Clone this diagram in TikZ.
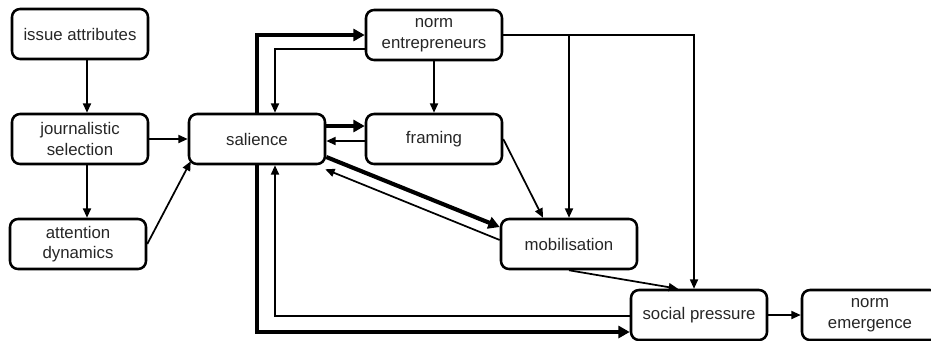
\documentclass[tikz,border=0pt]{standalone}
\usepackage{fontspec}
\setmainfont{Liberation Sans}
\usetikzlibrary{positioning, arrows.meta}

\begin{document}
\begin{tikzpicture}[x=0.75pt, y=-0.75pt,
		box/.style={draw, line width=1.9pt, rounded corners=6pt, minimum width=102pt, minimum height=37.5pt, align=center, text=black!85, font=\fontsize{12.6}{15.4}\selectfont},
		linkthin/.style={line width=1.3pt, -{Triangle[length=7pt,width=6pt]}},
		linkthick/.style={line width=3.1pt, -{Triangle[length=8.5pt,width=9pt]}}]
			\useasboundingbox (0,0) rectangle (931,340);
			% boxes
			\node[box] (issue) at (80,34) {issue attributes};
			\node[box] (journ) at (80,139) {journalistic\\selection};
			\node[box] (attn) at (78,244) {attention\\dynamics};
			\node[box] (sal) at (257,139) {salience};
			\node[box] (ne) at (434,35) {norm\\entrepreneurs};
			\node[box] (fram) at (434,139) {framing};
			\node[box] (mob) at (569,244) {mobilisation};
			\node[box] (sp) at (699,315) {social pressure};
			\node[box] (nemg) at (870,315) {norm\\emergence};
			% media side
			\draw[linkthin] (issue.south -| 87,0) -- (journ.north -| 87,0);
			\draw[linkthin] (journ.south -| 87,0) -- (attn.north -| 87,0);
			\draw[linkthin] (journ.east) -- (sal.west);
			\draw[linkthin] (attn.east) -- ([shift={(3,-4)}]sal.south west);
			% salience loops
			\draw[linkthick] (sal.north) |- (ne.west);
			\draw[linkthick] (sal.south) |- (sp.west |- 0,332);
			\draw[linkthin] (ne.west |- 0,49) -| (sal.north -| 275,0);
			\draw[linkthin] (sp.west |- 0,316) -| (sal.south -| 275,0);
			\draw[linkthick] (sal.east |- 0,126) -- (fram.west |- 0,126);
			\draw[linkthin] (fram.west |- 0,141) -- (sal.east |- 0,141);
			\draw[linkthick] (sal.east |- 0,157) -- (mob.west |- 0,227);
			\draw[linkthin] (mob.west |- 0,240) -- ([shift={(-1,4)}]sal.south east);
			% actors side
			\draw[linkthin] (ne) -- (fram);
			\draw[linkthin] (fram.east) -- (mob.north -| 543,0);
			\draw[linkthin] (ne.east) -| (sp.north -| 694,0);
			\draw[linkthin] (ne.east -| mob.north) -- (mob.north);
			\draw[linkthin] (mob.south) -- (sp.north -| 678,0);
			\draw[linkthin] (sp) -- (nemg);
\end{tikzpicture}
\end{document}
